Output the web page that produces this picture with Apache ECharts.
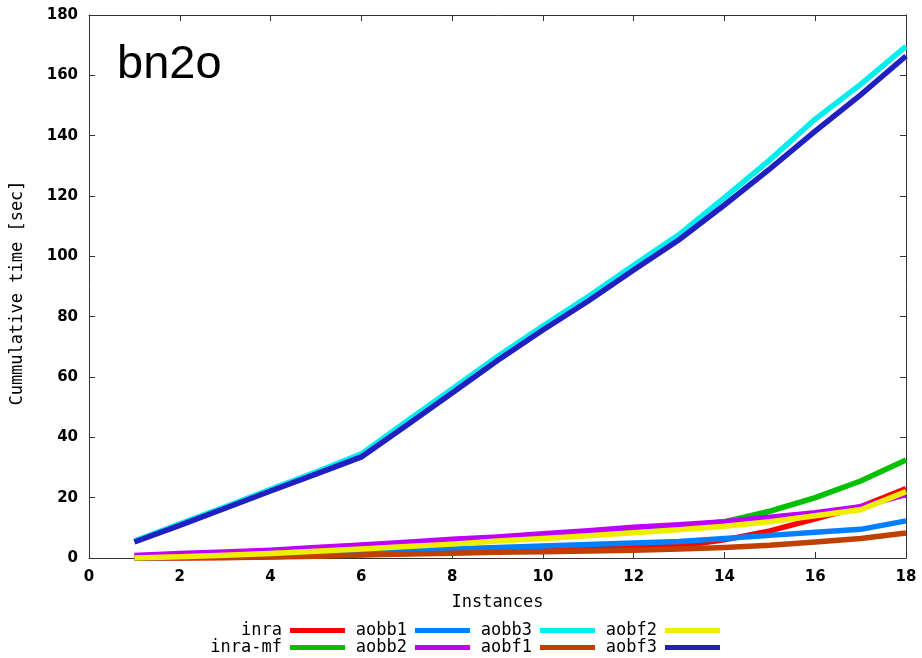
<!DOCTYPE html>
<html><head><meta charset="utf-8">
<script src="https://cdn.jsdelivr.net/npm/echarts@6/dist/echarts.min.js"></script>
<style>html,body{margin:0;padding:0;background:#fff}#c{width:922px;height:658px}</style>
</head><body><div id="c"></div>
<script>
// ---- data ----
const instances = [1,2,3,4,5,6,7,8,9,10,11,12,13,14,15,16,17,18];
const inra   = [0,0,0.2,0.4,0.8,1.2,1.5,1.8,2.2,2.6,3,3.5,4,6,9,13,17,23];
const inraMf = [0.3,0.8,1.3,2,2.8,3.5,4.3,5.2,6.2,7.2,8.2,9.3,10.5,12,15.5,20,25.5,32.5];
const aobb1  = [0,0.2,0.5,0.9,1.5,2,2.6,3,3.5,4,4.5,5,5.5,6.5,7.5,8.5,9.5,12.3];
const aobb2  = [0.8,1.5,2,2.6,3.5,4.3,5.2,6.2,7,8,9,10.2,11,12,13.5,15,17,21];
const aobb3  = [5.6,11.3,17,22.8,28.5,34.5,45.3,56,66.8,76.9,86.7,97,107.2,119.5,132,145.5,157,169.6];
const aobf1  = [0,0,0.1,0.3,0.6,1,1.3,1.6,1.9,2.1,2.3,2.6,3,3.5,4.2,5.3,6.5,8.3];
const aobf2  = [0,0.4,0.9,1.5,2.2,3,3.8,4.6,5.6,6.5,7.4,8.4,9.4,10.5,12,14,16,22];
const aobf3  = [5.3,10.8,16.5,22.2,27.8,33.5,44,54.7,65.5,75.6,85.2,95.5,105.5,117,129,141.5,153.5,166.4];
const seriesNames = ['inra','inra-mf','aobb1','aobb2','aobb3','aobf1','aobf2','aobf3'];
const seriesValues = [inra, inraMf, aobb1, aobb2, aobb3, aobf1, aobf2, aobf3];
const chartTitle = 'bn2o';
const xName = 'Instances';
const yName = 'Cummulative time [sec]';

// ---- styles ----
const colors = ['#ff0000','#00c000','#0080ff','#c000ff','#00eeee','#c04000','#eeee00','#2020c0'];
const axisColor = '#333333';
const monoFont = '"DejaVu Sans Mono", monospace';
const tickFont = {fontFamily:'"DejaVu Sans", sans-serif', fontWeight:'bold', fontSize:15, color:'#000'};

const chart = echarts.init(document.getElementById('c'), null, {renderer:'canvas'});

const series = seriesNames.map((n,i)=>({
  name:n, type:'line', xAxisIndex:0, yAxisIndex:0,
  data: instances.map((x,j)=>[x, seriesValues[i][j]]),
  showSymbol:false, symbol:'none',
  lineStyle:{color:colors[i], width:5.5, cap:'butt', join:'miter'},
  itemStyle:{color:colors[i]},
  animation:false, z:2+i
}));

// legend: 4 columns x 2 rows, label then line sample
const legendRight = [577, 452, 327, 202];
const legendTop = [622, 639];
const legends = seriesNames.map((n,i)=>({
  data:[n], orient:'horizontal', align:'right',
  right: legendRight[Math.floor(i/2)] - 5,
  top: legendTop[i%2] - 5,
  icon:'rect', itemWidth:55, itemHeight:5, itemGap:0,
  textStyle:{fontFamily:monoFont, fontSize:17, color:'#000', padding:[0,3,0,0]},
  selectedMode:false
}));

const xCommon = {type:'value', min:0, max:18, interval:2,
  axisLine:{show:true, onZero:false, lineStyle:{color:axisColor, width:1}},
  axisTick:{show:true, inside:true, length:6, lineStyle:{color:axisColor}},
  splitLine:{show:false}};
const yCommon = {type:'value', min:0, max:180, interval:20,
  axisLine:{show:true, onZero:false, lineStyle:{color:axisColor, width:1}},
  axisTick:{show:true, inside:true, length:6, lineStyle:{color:axisColor}},
  splitLine:{show:false}};

chart.setOption({
  animation:false,
  backgroundColor:'#ffffff',
  grid:{left:89, right:16, top:15, bottom:100, containLabel:false},
  xAxis:[
    Object.assign({}, xCommon, {position:'bottom', name:xName, nameLocation:'middle', nameGap:36,
      nameTextStyle:{fontFamily:monoFont, fontSize:17, color:'#000'},
      axisLabel:Object.assign({margin:12}, tickFont)}),
    Object.assign({}, xCommon, {position:'top', axisLabel:{show:false}})
  ],
  yAxis:[
    Object.assign({}, yCommon, {position:'left',
      axisLabel:Object.assign({margin:11}, tickFont)}),
    Object.assign({}, yCommon, {position:'right', axisLabel:{show:false}})
  ],
  legend:legends,
  graphic:[
    {type:'text', left:117, top:42, z:100, style:{text:chartTitle, font:'47px "Liberation Sans", Arial, sans-serif', fill:'#000'}},
    {type:'text', x:18, y:293, rotation:Math.PI/2, z:100,
     style:{text:yName, font:'17px "DejaVu Sans Mono", monospace', fill:'#000', align:'center', verticalAlign:'middle'}}
  ],
  series:series
});
</script></body></html>
